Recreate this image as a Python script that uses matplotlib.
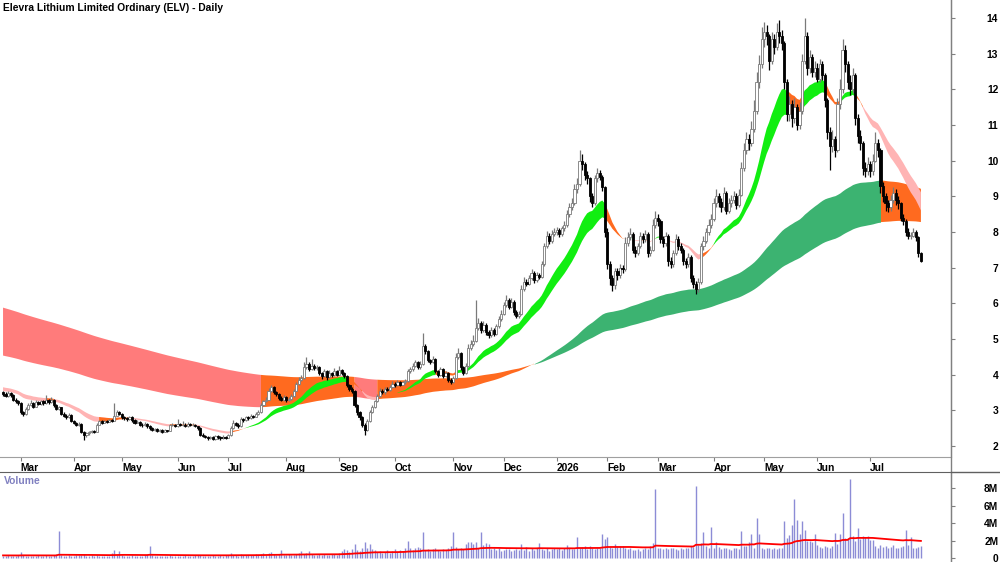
import matplotlib
matplotlib.use('Agg')
import matplotlib.pyplot as plt
from matplotlib import font_manager
from matplotlib.lines import Line2D
import numpy as np
import pandas as pd

# ---- data ----
title = 'Elevra Lithium Limited Ordinary (ELV) - Daily'
holidays = ['2025-04-18', '2025-04-21', '2025-04-25', '2025-06-09', '2025-12-25', '2025-12-26',
            '2026-01-01', '2026-01-26', '2026-04-03', '2026-04-06', '2026-06-08']
month_labels = ['Mar', 'Apr', 'May', 'Jun', 'Jul', 'Aug', 'Sep', 'Oct', 'Nov', 'Dec',
                '2026', 'Feb', 'Mar', 'Apr', 'May', 'Jun', 'Jul']
price_ticks = [2, 3, 4, 5, 6, 7, 8, 9, 10, 11, 12, 13, 14]
vol_ticks = [0, 2, 4, 6, 8]
vol_tick_labels = ['0', '2M', '4M', '6M', '8M']

opens = [
    3.50, 3.45, 3.40, 3.48, 3.42, 3.30, 3.25, 3.20, 2.95, 2.90,
    3.05, 3.15, 3.20, 3.10, 3.22, 3.18, 3.25, 3.20, 3.28, 3.22,
    3.30, 3.15, 3.05, 3.08, 2.90, 2.85, 2.80, 2.88, 2.70, 2.65,
    2.60, 2.62, 2.40, 2.30, 2.35, 2.38, 2.42, 2.40, 2.60, 2.70,
    2.65, 2.70, 2.68, 2.72, 2.70, 2.85, 2.95, 2.90, 2.80, 2.78,
    2.75, 2.80, 2.72, 2.65, 2.68, 2.60, 2.58, 2.62, 2.55, 2.50,
    2.45, 2.48, 2.42, 2.45, 2.40, 2.44, 2.42, 2.58, 2.60, 2.55,
    2.62, 2.58, 2.60, 2.56, 2.62, 2.58, 2.60, 2.55, 2.50, 2.32,
    2.28, 2.25, 2.22, 2.25, 2.20, 2.28, 2.24, 2.22, 2.26, 2.23,
    2.30, 2.50, 2.65, 2.60, 2.55, 2.75, 2.72, 2.80, 2.78, 2.85,
    2.82, 2.90, 2.95, 3.15, 3.25, 3.30, 3.55, 3.65, 3.50, 3.45,
    3.35, 3.30, 3.38, 3.28, 3.32, 3.40, 3.55, 3.75, 3.85, 3.90,
    4.20, 4.30, 4.15, 4.25, 4.18, 4.22, 4.05, 3.95, 4.10, 3.92,
    4.05, 3.98, 4.10, 4.00, 4.12, 4.05, 3.95, 3.70, 3.60, 3.55,
    3.15, 2.95, 2.80, 2.60, 2.45, 2.70, 2.95, 3.10, 3.25, 3.40,
    3.55, 3.50, 3.60, 3.58, 3.65, 3.75, 3.70, 3.80, 3.72, 3.78,
    3.82, 4.10, 4.15, 4.25, 4.35, 4.20, 4.30, 4.80, 4.65, 4.40,
    4.35, 4.45, 4.10, 4.00, 4.15, 3.95, 4.05, 3.85, 3.80, 3.90,
    4.50, 4.60, 4.20, 4.05, 4.25, 4.75, 4.85, 4.95, 5.30, 5.45,
    5.25, 5.40, 5.20, 5.10, 5.25, 5.15, 5.35, 5.55, 5.70, 5.95,
    6.10, 5.90, 6.05, 5.75, 5.65, 5.70, 6.40, 6.60, 6.55, 6.70,
    6.85, 6.65, 6.80, 6.75, 7.10, 7.60, 7.90, 7.75, 7.95, 8.00,
    8.05, 7.95, 8.10, 8.20, 8.50, 8.70, 8.80, 9.20, 9.35, 10.00,
    9.90, 9.60, 9.50, 9.00, 8.80, 9.50, 9.65, 9.55, 9.25, 8.00,
    7.10, 6.70, 6.50, 6.90, 6.80, 7.00, 6.95, 7.70, 7.85, 7.95,
    7.50, 7.40, 7.60, 7.90, 7.80, 7.95, 7.40, 7.50, 8.20, 8.40,
    8.30, 7.80, 7.70, 7.90, 7.20, 7.10, 7.40, 7.80, 7.60, 7.50,
    7.20, 7.10, 7.30, 6.70, 6.55, 6.40, 6.60, 7.60, 7.75, 8.00,
    8.20, 8.35, 8.80, 9.00, 8.85, 8.70, 9.10, 8.60, 8.80, 8.90,
    9.00, 8.75, 9.05, 9.80, 10.30, 10.60, 10.50, 10.90, 11.40, 12.20,
    12.70, 13.40, 13.60, 13.50, 12.80, 13.40, 13.20, 13.60, 13.50, 13.30,
    12.20, 11.30, 11.60, 11.20, 11.50, 11.00, 11.40, 12.80, 13.50, 12.60,
    12.90, 12.50, 12.60, 12.30, 12.70, 12.40, 11.70, 10.80, 10.40, 10.60,
    10.30, 11.60, 12.00, 13.10, 12.70, 12.20, 12.00, 12.40, 11.20, 10.70,
    10.50, 9.80, 9.70, 9.90, 9.70, 10.00, 10.50, 10.30, 9.30, 9.00,
    8.80, 8.70, 8.90, 9.10, 8.90, 8.80, 8.40, 8.30, 8.00, 7.90,
    7.90, 8.00, 7.85, 7.40]

highs = [
    3.55, 3.50, 3.53, 3.52, 3.45, 3.34, 3.28, 3.22, 2.99, 3.10,
    3.20, 3.30, 3.24, 3.28, 3.26, 3.30, 3.29, 3.43, 3.32, 3.36,
    3.33, 3.18, 3.12, 3.10, 2.94, 2.89, 2.92, 2.90, 2.74, 2.68,
    2.66, 2.64, 2.43, 2.39, 2.42, 2.46, 2.45, 2.64, 2.74, 2.73,
    2.74, 2.73, 2.76, 2.75, 3.20, 3.02, 2.99, 2.93, 2.83, 2.81,
    2.84, 2.83, 2.75, 2.72, 2.70, 2.63, 2.66, 2.64, 2.58, 2.53,
    2.51, 2.50, 2.48, 2.47, 2.47, 2.46, 2.62, 2.64, 2.62, 2.75,
    2.65, 2.70, 2.63, 2.66, 2.64, 2.63, 2.62, 2.57, 2.52, 2.35,
    2.31, 2.28, 2.29, 2.27, 2.31, 2.30, 2.27, 2.30, 2.28, 2.34,
    2.55, 2.73, 2.68, 2.63, 2.80, 2.78, 2.85, 2.83, 2.90, 2.88,
    2.95, 3.00, 3.20, 3.30, 3.38, 3.62, 3.72, 3.68, 3.54, 3.48,
    3.39, 3.43, 3.41, 3.37, 3.45, 3.60, 3.80, 3.92, 4.00, 4.35,
    4.50, 4.35, 4.45, 4.30, 4.28, 4.25, 4.08, 4.15, 4.13, 4.12,
    4.08, 4.18, 4.14, 4.25, 4.16, 4.08, 3.98, 3.74, 3.65, 3.58,
    3.18, 2.98, 2.84, 2.63, 2.75, 3.00, 3.16, 3.30, 3.46, 3.62,
    3.60, 3.66, 3.64, 3.72, 3.82, 3.78, 3.86, 3.83, 3.83, 3.88,
    4.16, 4.22, 4.32, 4.42, 4.38, 4.38, 5.17, 4.85, 4.68, 4.45,
    4.52, 4.48, 4.14, 4.22, 4.18, 4.10, 4.08, 3.90, 3.96, 4.60,
    4.75, 4.63, 4.25, 4.33, 4.85, 4.98, 5.10, 6.10, 5.60, 5.50,
    5.50, 5.45, 5.26, 5.33, 5.30, 5.42, 5.63, 5.80, 6.05, 6.22,
    6.15, 6.14, 6.08, 5.80, 5.78, 6.50, 6.75, 6.68, 6.80, 6.95,
    6.90, 6.88, 6.86, 7.20, 7.70, 8.02, 7.96, 8.05, 8.12, 8.15,
    8.10, 8.18, 8.30, 8.62, 8.82, 8.95, 9.35, 9.50, 10.30, 10.20,
    9.95, 9.70, 9.55, 9.10, 9.60, 9.80, 9.75, 9.60, 9.30, 8.10,
    7.20, 6.80, 7.00, 7.00, 7.10, 7.08, 7.85, 8.00, 8.10, 8.00,
    7.60, 7.70, 8.00, 7.98, 8.05, 8.00, 7.62, 8.35, 8.60, 8.50,
    8.35, 7.90, 8.00, 7.95, 7.30, 7.50, 7.95, 7.88, 7.68, 7.55,
    7.28, 7.40, 7.35, 6.80, 6.62, 6.72, 7.70, 7.90, 8.12, 8.35,
    8.50, 8.95, 9.20, 9.10, 8.95, 9.25, 9.15, 8.95, 9.05, 9.15,
    9.08, 9.20, 9.95, 10.50, 10.80, 10.75, 11.10, 11.70, 12.50, 12.95,
    13.75, 13.90, 13.80, 13.55, 13.60, 13.55, 13.85, 13.95, 13.65, 13.35,
    12.30, 11.80, 11.70, 11.75, 11.60, 11.65, 13.00, 14.00, 13.60, 13.10,
    13.00, 12.80, 12.75, 12.85, 12.80, 12.45, 11.75, 10.95, 10.85, 10.70,
    11.75, 12.30, 13.40, 13.25, 12.80, 12.40, 12.60, 12.45, 11.30, 10.85,
    10.55, 9.95, 10.10, 10.00, 10.20, 10.80, 10.60, 10.35, 9.40, 9.10,
    8.90, 9.05, 9.25, 9.20, 9.00, 8.85, 8.50, 8.35, 8.10, 8.00,
    8.10, 8.05, 7.90, 7.45]

lows = [
    3.40, 3.36, 3.37, 3.38, 3.26, 3.20, 3.15, 2.90, 2.85, 2.88,
    3.02, 3.12, 3.06, 3.08, 3.14, 3.15, 3.16, 3.18, 3.18, 3.20,
    3.10, 3.00, 3.02, 2.86, 2.80, 2.76, 2.78, 2.66, 2.61, 2.56,
    2.57, 2.36, 2.17, 2.26, 2.32, 2.35, 2.36, 2.39, 2.58, 2.62,
    2.63, 2.65, 2.66, 2.67, 2.69, 2.83, 2.86, 2.76, 2.74, 2.71,
    2.73, 2.68, 2.61, 2.63, 2.56, 2.54, 2.56, 2.51, 2.46, 2.42,
    2.43, 2.39, 2.40, 2.37, 2.38, 2.39, 2.41, 2.56, 2.52, 2.54,
    2.55, 2.56, 2.53, 2.54, 2.55, 2.55, 2.52, 2.46, 2.28, 2.24,
    2.21, 2.18, 2.19, 2.16, 2.18, 2.20, 2.18, 2.19, 2.19, 2.21,
    2.28, 2.48, 2.56, 2.51, 2.54, 2.68, 2.70, 2.74, 2.76, 2.78,
    2.80, 2.87, 2.93, 3.12, 3.22, 3.28, 3.50, 3.45, 3.40, 3.30,
    3.25, 3.27, 3.24, 3.25, 3.30, 3.38, 3.53, 3.72, 3.82, 3.88,
    4.15, 4.10, 4.12, 4.12, 4.14, 4.00, 3.88, 3.92, 3.86, 3.90,
    3.92, 3.95, 3.95, 3.98, 4.00, 3.90, 3.64, 3.54, 3.48, 3.10,
    2.88, 2.72, 2.52, 2.30, 2.42, 2.66, 2.92, 3.06, 3.22, 3.36,
    3.45, 3.47, 3.53, 3.55, 3.62, 3.65, 3.68, 3.68, 3.70, 3.75,
    3.80, 4.05, 4.10, 4.20, 4.15, 4.16, 4.28, 4.58, 4.34, 4.30,
    4.32, 4.05, 3.94, 3.97, 3.90, 3.92, 3.80, 3.75, 3.77, 3.88,
    4.45, 4.12, 3.98, 4.02, 4.22, 4.70, 4.80, 4.92, 5.25, 5.18,
    5.20, 5.12, 5.02, 5.06, 5.08, 5.12, 5.30, 5.50, 5.66, 5.90,
    5.84, 5.86, 5.68, 5.58, 5.60, 5.68, 6.35, 6.48, 6.50, 6.65,
    6.58, 6.60, 6.68, 6.72, 7.05, 7.55, 7.66, 7.70, 7.88, 7.92,
    7.86, 7.90, 8.02, 8.15, 8.42, 8.62, 8.75, 9.10, 9.30, 9.75,
    9.45, 9.35, 8.85, 8.70, 8.75, 9.40, 9.45, 9.15, 7.85, 6.95,
    6.50, 6.35, 6.40, 6.65, 6.72, 6.85, 6.90, 7.62, 7.78, 7.40,
    7.30, 7.35, 7.55, 7.70, 7.72, 7.30, 7.32, 7.48, 8.12, 8.18,
    7.70, 7.58, 7.62, 7.05, 6.98, 7.02, 7.35, 7.50, 7.40, 7.08,
    6.98, 7.02, 6.60, 6.42, 6.25, 6.32, 6.55, 7.50, 7.68, 7.92,
    8.10, 8.30, 8.70, 8.70, 8.55, 8.62, 8.50, 8.52, 8.70, 8.80,
    8.65, 8.70, 9.00, 9.70, 10.20, 10.30, 10.40, 10.80, 11.30, 12.05,
    12.60, 13.20, 13.25, 12.55, 12.70, 13.00, 13.10, 13.30, 13.10, 12.00,
    11.10, 11.10, 10.95, 11.05, 10.85, 10.90, 11.30, 12.70, 12.40, 12.45,
    12.35, 12.35, 12.20, 12.20, 12.25, 11.50, 10.60, 9.75, 10.25, 10.10,
    10.25, 11.45, 11.90, 12.50, 12.00, 11.85, 11.90, 11.00, 10.50, 10.30,
    9.60, 9.55, 9.60, 9.55, 9.60, 9.95, 10.10, 9.10, 8.85, 8.60,
    8.55, 8.60, 8.80, 8.75, 8.65, 8.30, 8.20, 7.90, 7.80, 7.80,
    7.85, 7.75, 7.30, 7.15]

closes = [
    3.45, 3.40, 3.48, 3.42, 3.30, 3.25, 3.20, 2.95, 2.90, 3.05,
    3.15, 3.20, 3.10, 3.22, 3.18, 3.25, 3.20, 3.28, 3.22, 3.30,
    3.15, 3.05, 3.08, 2.90, 2.85, 2.80, 2.88, 2.70, 2.65, 2.60,
    2.62, 2.40, 2.30, 2.35, 2.38, 2.42, 2.40, 2.60, 2.70, 2.65,
    2.70, 2.68, 2.72, 2.70, 2.85, 2.95, 2.90, 2.80, 2.78, 2.75,
    2.80, 2.72, 2.65, 2.68, 2.60, 2.58, 2.62, 2.55, 2.50, 2.45,
    2.48, 2.42, 2.45, 2.40, 2.44, 2.42, 2.58, 2.60, 2.55, 2.62,
    2.58, 2.60, 2.56, 2.62, 2.58, 2.60, 2.55, 2.50, 2.32, 2.28,
    2.25, 2.22, 2.25, 2.20, 2.28, 2.24, 2.22, 2.26, 2.23, 2.30,
    2.50, 2.65, 2.60, 2.55, 2.75, 2.72, 2.80, 2.78, 2.85, 2.82,
    2.90, 2.95, 3.15, 3.25, 3.30, 3.55, 3.65, 3.50, 3.45, 3.35,
    3.30, 3.38, 3.28, 3.32, 3.40, 3.55, 3.75, 3.85, 3.90, 4.20,
    4.30, 4.15, 4.25, 4.18, 4.22, 4.05, 3.95, 4.10, 3.92, 4.05,
    3.98, 4.10, 4.00, 4.12, 4.05, 3.95, 3.70, 3.60, 3.55, 3.15,
    2.95, 2.80, 2.60, 2.45, 2.70, 2.95, 3.10, 3.25, 3.40, 3.55,
    3.50, 3.60, 3.58, 3.65, 3.75, 3.70, 3.80, 3.72, 3.78, 3.82,
    4.10, 4.15, 4.25, 4.35, 4.20, 4.30, 4.80, 4.65, 4.40, 4.35,
    4.45, 4.10, 4.00, 4.15, 3.95, 4.05, 3.85, 3.80, 3.90, 4.50,
    4.60, 4.20, 4.05, 4.25, 4.75, 4.85, 4.95, 5.30, 5.45, 5.25,
    5.40, 5.20, 5.10, 5.25, 5.15, 5.35, 5.55, 5.70, 5.95, 6.10,
    5.90, 6.05, 5.75, 5.65, 5.70, 6.40, 6.60, 6.55, 6.70, 6.85,
    6.65, 6.80, 6.75, 7.10, 7.60, 7.90, 7.75, 7.95, 8.00, 8.05,
    7.95, 8.10, 8.20, 8.50, 8.70, 8.80, 9.20, 9.35, 10.00, 9.90,
    9.60, 9.50, 9.00, 8.80, 9.50, 9.65, 9.55, 9.25, 8.00, 7.10,
    6.70, 6.50, 6.90, 6.80, 7.00, 6.95, 7.70, 7.85, 7.95, 7.50,
    7.40, 7.60, 7.90, 7.80, 7.95, 7.40, 7.50, 8.20, 8.40, 8.30,
    7.80, 7.70, 7.90, 7.20, 7.10, 7.40, 7.80, 7.60, 7.50, 7.20,
    7.10, 7.30, 6.70, 6.55, 6.40, 6.60, 7.60, 7.75, 8.00, 8.20,
    8.35, 8.80, 9.00, 8.85, 8.70, 9.10, 8.60, 8.80, 8.90, 9.00,
    8.75, 9.05, 9.80, 10.30, 10.60, 10.50, 10.90, 11.40, 12.20, 12.70,
    13.40, 13.60, 13.50, 12.80, 13.40, 13.20, 13.60, 13.50, 13.30, 12.20,
    11.30, 11.60, 11.20, 11.50, 11.00, 11.40, 12.80, 13.50, 12.60, 12.90,
    12.50, 12.60, 12.30, 12.70, 12.40, 11.70, 10.80, 10.40, 10.60, 10.30,
    11.60, 12.00, 13.10, 12.70, 12.20, 12.00, 12.40, 11.20, 10.70, 10.50,
    9.80, 9.70, 9.90, 9.70, 10.00, 10.50, 10.30, 9.30, 9.00, 8.80,
    8.70, 8.90, 9.10, 8.90, 8.80, 8.40, 8.30, 8.00, 7.90, 7.90,
    8.00, 7.85, 7.40, 7.20]

# volume in millions of shares
volumes = [
    0.25, 0.20, 0.30, 0.22, 0.18, 0.25, 0.35, 0.70, 0.40, 0.25,
    0.20, 0.22, 0.18, 0.25, 0.30, 0.20, 0.22, 0.35, 0.28, 0.20,
    0.30, 0.45, 3.10, 0.40, 0.25, 0.22, 0.30, 0.20, 0.25, 0.35,
    0.30, 0.40, 0.45, 0.25, 0.20, 0.30, 0.22, 0.35, 0.25, 0.20,
    0.22, 0.18, 0.25, 0.55, 0.90, 0.30, 0.85, 0.30, 0.20, 0.25,
    0.22, 0.30, 0.20, 0.25, 0.18, 0.22, 0.30, 0.50, 1.40, 0.30,
    0.25, 0.20, 0.22, 0.18, 0.25, 0.20, 0.30, 0.22, 0.25, 0.18,
    0.20, 0.25, 0.30, 0.22, 0.20, 0.25, 0.30, 0.35, 0.40, 0.28,
    0.22, 0.25, 0.20, 0.30, 0.25, 0.22, 0.35, 0.25, 0.30, 0.40,
    0.60, 0.35, 0.30, 0.25, 0.45, 0.30, 0.35, 0.40, 0.30, 0.35,
    0.45, 0.40, 0.50, 0.60, 0.40, 0.55, 0.70, 0.50, 0.40, 0.45,
    0.95, 0.40, 0.35, 0.45, 0.30, 0.40, 0.50, 0.60, 0.85, 0.45,
    0.55, 0.80, 0.45, 0.40, 0.35, 0.50, 0.40, 0.45, 0.35, 0.40,
    0.45, 0.50, 0.40, 0.60, 0.80, 1.00, 0.90, 0.70, 1.00, 1.60,
    0.90, 0.80, 1.10, 1.80, 1.20, 1.60, 1.00, 0.90, 0.70, 0.80,
    0.60, 0.70, 0.90, 0.60, 0.80, 1.00, 0.70, 0.90, 0.80, 1.20,
    1.90, 1.10, 0.90, 1.10, 1.30, 1.10, 3.00, 0.90, 1.00, 0.80,
    1.00, 1.20, 0.90, 0.80, 1.00, 0.90, 1.20, 1.40, 3.00, 1.30,
    1.00, 1.20, 1.00, 1.60, 1.80, 1.80, 1.60, 1.80, 1.20, 3.00,
    1.50, 1.70, 1.60, 1.00, 1.20, 0.90, 1.10, 0.80, 0.90, 1.00,
    1.00, 0.80, 0.90, 1.00, 0.90, 1.60, 0.90, 1.30, 0.80, 1.10,
    0.90, 1.20, 1.70, 1.00, 0.90, 1.10, 0.80, 1.00, 1.20, 1.00,
    1.10, 0.90, 1.20, 1.50, 1.10, 1.00, 1.00, 2.40, 1.20, 1.30,
    1.40, 1.00, 1.40, 1.10, 1.00, 1.20, 1.10, 2.80, 2.20, 2.40,
    1.30, 1.20, 1.60, 1.30, 1.40, 1.40, 1.20, 1.00, 1.10, 0.90,
    0.90, 1.00, 0.80, 1.00, 1.20, 1.00, 1.40, 1.70, 7.90, 1.20,
    1.10, 1.00, 1.20, 1.00, 1.10, 1.20, 1.00, 0.90, 1.10, 1.00,
    1.20, 1.10, 1.40, 1.30, 8.20, 1.50, 1.70, 3.00, 1.40, 1.20,
    3.60, 1.20, 1.80, 1.30, 1.00, 1.10, 1.20, 1.00, 0.90, 1.10,
    1.20, 1.00, 3.10, 1.40, 1.40, 1.80, 2.80, 1.20, 4.60, 2.80,
    1.20, 1.00, 1.10, 1.20, 1.00, 1.10, 1.00, 1.20, 1.10, 4.20,
    2.30, 2.60, 3.80, 6.70, 4.40, 2.80, 4.20, 3.20, 1.90, 1.90,
    1.80, 2.80, 1.50, 1.30, 1.20, 1.40, 1.30, 1.20, 1.40, 2.90,
    1.60, 2.80, 5.10, 2.30, 2.30, 9.00, 2.50, 1.90, 3.40, 2.20,
    2.50, 2.40, 2.50, 2.10, 2.10, 1.40, 1.20, 1.50, 1.30, 1.40,
    1.20, 1.30, 1.50, 1.20, 1.10, 1.30, 1.40, 3.20, 1.50, 2.40,
    1.10, 1.20, 1.30, 1.40]

short_fast, short_slow = 20, 30
short_seed = (3.55, 3.66)
long_fast, long_slow = 140, 230
long_seed = (4.55, 5.90)
vol_ma_len, vol_ma_seed = 70, 0.30

n = len(closes)
assert len(opens) == n and len(highs) == n and len(lows) == n and len(volumes) == n


def ema(vals, span, seed):
    a = 2.0 / (span + 1)
    out = np.empty(len(vals))
    e = seed
    for k, v in enumerate(vals):
        e += a * (v - e)
        out[k] = e
    return out


def ribbon(ax, x, fast, slow, seed, cols, z):
    slope = np.diff(fast, prepend=seed)
    up = (fast >= slow) & (slope > 0)
    dn = (fast < slow) & (slope < 0)
    mid = ~(up | dn)
    lo = np.minimum(fast, slow)
    hi = np.maximum(fast, slow)
    for m, c in ((dn, cols[0]), (mid, cols[1]), (up, cols[2])):
        mm = m.copy()
        mm[1:] |= m[:-1]
        ax.fill_between(x, lo, hi, where=mm, color=c, lw=0, zorder=z)


# fonts
names = {f.name for f in font_manager.fontManager.ttflist}
if 'Liberation Sans Narrow' in names:
    fam, fs = 'Liberation Sans Narrow', 9.2
else:
    fam, fs = 'Liberation Sans', 7.4
plt.rcParams['font.family'] = [fam, 'DejaVu Sans']

o = np.array(opens)
h = np.array(highs)
l = np.array(lows)
c = np.array(closes)
v = np.array(volumes)
x = np.arange(n)

dates = pd.bdate_range('2025-02-20', periods=n, freq='C', holidays=holidays)
per = dates.to_period('M')
month_pos = [i for i in range(1, n) if per[i] != per[i - 1]]

fig = plt.figure(figsize=(10, 5.62), dpi=100)
ax = fig.add_axes([0, 1 - 457 / 562, 0.951, 457 / 562])
axv = fig.add_axes([0, 0, 0.951, 90 / 562], sharex=ax)

# ribbons
sf = ema(c, short_fast, short_seed[0])
ss = ema(c, short_slow, short_seed[1])
lf = ema(c, long_fast, long_seed[0])
ls = ema(c, long_slow, long_seed[1])
orange = '#ff6a1f'
ribbon(ax, x, lf, ls, long_seed[0], ('#ff7b7b', orange, '#3cb371'), 1)
ribbon(ax, x, sf, ss, short_seed[0], ('#ffb4b4', orange, '#11ee11'), 2)

# candles
up = c >= o
blo = np.minimum(o, c)
bh = np.maximum(np.abs(c - o), 0.02)
ax.vlines(x[up], l[up], h[up], color='#7a7a7a', lw=0.9, zorder=5)
ax.vlines(x[~up], l[~up], h[~up], color='black', lw=0.9, zorder=5)
ax.bar(x[up], bh[up], bottom=blo[up], width=0.85, color='white', edgecolor='#7a7a7a', linewidth=0.6, zorder=6)
ax.bar(x[~up], bh[~up], bottom=blo[~up], width=0.85, color='black', edgecolor='black', linewidth=0.6, zorder=6)

ax.set_xlim(-1.2, 374.9)
ax.set_ylim(1.69, 14.505)
ax.set_xticks(month_pos)
ax.set_xticklabels(month_labels[:len(month_pos)])
ax.tick_params(axis='x', direction='out', length=3, width=0.8, color='#808080', pad=1, labelsize=fs)
for lbl in ax.get_xticklabels():
    lbl.set_ha('left')
    lbl.set_fontweight('bold')
ax.yaxis.tick_right()
ax.set_yticks(price_ticks)
ax.set_yticklabels([str(t) for t in price_ticks])
ax.tick_params(axis='y', direction='out', length=3, width=0.8, color='#808080', pad=31, labelsize=fs)
for lbl in ax.get_yticklabels():
    lbl.set_ha('right')
    lbl.set_fontweight('bold')
ax.spines['top'].set_visible(False)
ax.spines['left'].set_visible(False)
ax.spines['right'].set_color('#808080')
ax.spines['bottom'].set_color('#a0a0a0')

# volume
vma = ema(v, vol_ma_len, vol_ma_seed)
axv.vlines(x, 0, v, color='#8c8cd6', lw=1.0, zorder=2)
axv.plot(x, vma, color='#ff0000', lw=1.3, zorder=3)
axv.set_ylim(-0.457, 9.83)
axv.yaxis.tick_right()
axv.set_yticks(vol_ticks)
axv.set_yticklabels(vol_tick_labels)
axv.tick_params(axis='y', direction='out', length=3, width=0.8, color='#808080', pad=31, labelsize=fs)
for lbl in axv.get_yticklabels():
    lbl.set_ha('right')
    lbl.set_fontweight('bold')
axv.tick_params(axis='x', which='both', bottom=False, labelbottom=False)
axv.spines['left'].set_visible(False)
axv.spines['bottom'].set_visible(False)
axv.spines['right'].set_color('#808080')
axv.spines['top'].set_color('#606060')

fig.add_artist(Line2D([0.951, 0.951], [0, 1], transform=fig.transFigure, color='#808080', lw=1))
fig.add_artist(Line2D([0.951, 1.0], [90 / 562, 90 / 562], transform=fig.transFigure, color='#606060', lw=1))

fig.text(0.003, 1 - 8 / 562, title, fontsize=fs, fontweight='bold', ha='left', va='center')
fig.text(0.004, 1 - 481 / 562, 'Volume', fontsize=fs, fontweight='bold', color='#8080c0', ha='left', va='center')

fig.savefig('out.png', dpi=100)
